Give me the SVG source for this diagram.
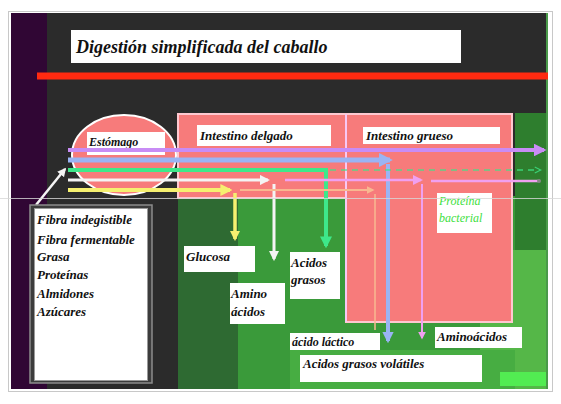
<svg xmlns="http://www.w3.org/2000/svg" width="561" height="404" viewBox="0 0 561 404">
<defs>
<style>
.lbl{font-family:"Liberation Serif","DejaVu Serif",serif;font-style:italic;font-weight:bold;fill:#111;}
.box{fill:#fff;}
.pink{fill:#f77b7b;stroke:#ffc8d0;stroke-width:2;}
.ln{fill:none;}
</style>
<marker id="mPurple" viewBox="0 0 10 10" refX="8" refY="5" markerWidth="3.2" markerHeight="3.2" orient="auto" markerUnits="strokeWidth"><path d="M0,0 L10,5 L0,10 z" fill="#c88cf5"/></marker>
<marker id="mBlue" viewBox="0 0 10 10" refX="8" refY="5" markerWidth="2.8" markerHeight="2.8" orient="auto" markerUnits="strokeWidth"><path d="M0,0 L10,5 L0,10 z" fill="#9ab4f4"/></marker>
<marker id="mGreen" viewBox="0 0 10 10" refX="8" refY="5" markerWidth="3" markerHeight="3" orient="auto" markerUnits="strokeWidth"><path d="M0,0 L10,5 L0,10 z" fill="#3ee88a"/></marker>
<marker id="mGreenD" viewBox="0 0 10 10" refX="8" refY="5" markerWidth="5" markerHeight="5" orient="auto" markerUnits="strokeWidth"><path d="M1,1 L9,5 L1,9" fill="none" stroke="#3ee88a" stroke-width="1.5"/></marker>
<marker id="mWhite" viewBox="0 0 10 10" refX="8" refY="5" markerWidth="3.5" markerHeight="3.5" orient="auto" markerUnits="strokeWidth"><path d="M0,0 L10,5 L0,10 z" fill="#f4f4f4"/></marker>
<marker id="mYellow" viewBox="0 0 10 10" refX="8" refY="5" markerWidth="3" markerHeight="3" orient="auto" markerUnits="strokeWidth"><path d="M0,0 L10,5 L0,10 z" fill="#f6f070"/></marker>
<marker id="mPinkV" viewBox="0 0 10 10" refX="8" refY="5" markerWidth="4" markerHeight="4" orient="auto" markerUnits="strokeWidth"><path d="M0,0 L10,5 L0,10 z" fill="#f0a0f0"/></marker>
<marker id="mOrange" viewBox="0 0 10 10" refX="8" refY="5" markerWidth="4" markerHeight="4" orient="auto" markerUnits="strokeWidth"><path d="M0,0 L10,5 L0,10 z" fill="#f8b890"/></marker>
</defs>

<!-- frame and backgrounds -->
<rect x="0" y="0" width="561" height="404" fill="#fff"/>
<rect x="8.5" y="11.5" width="544" height="380" fill="none" stroke="#c8c8c8" stroke-width="1"/>
<rect x="11" y="13" width="537" height="376" fill="#2b2b2b"/>
<rect x="11" y="13" width="36" height="376" fill="#300634"/>
<rect x="178" y="196" width="337" height="193" fill="#3a9a3a"/>
<rect x="178" y="196" width="60" height="193" fill="#2e6a32"/>
<rect x="515" y="113" width="33" height="276" fill="#2e7e2e"/>
<rect x="480" y="250" width="68" height="139" fill="#55b748"/>
<rect x="290" y="350" width="225" height="39" fill="#47ad42"/>
<rect x="500" y="372" width="48" height="14" fill="#52ec52"/>
<rect x="546" y="13" width="2" height="376" fill="#4a9a4a"/>

<!-- title -->
<g id="title">
<rect x="71" y="30" width="390" height="33" class="box"/>
<text x="76" y="53" class="lbl" font-size="18">Digestión simplificada del caballo</text>
</g>
<line x1="37" y1="76" x2="548" y2="76" stroke="#ff2a10" stroke-width="7"/>

<!-- organs -->
<g id="intestino-delgado">
<rect x="178" y="114" width="168" height="84" class="pink"/>
<rect x="197" y="125" width="134" height="21" class="box"/>
<text x="200" y="140" class="lbl" font-size="13">Intestino delgado</text>
</g>
<g id="intestino-grueso">
<rect x="346" y="114" width="166" height="208" class="pink"/>
<line x1="346" y1="114" x2="346" y2="322" stroke="#f8c8f4" stroke-width="2"/>
<rect x="363" y="127" width="137" height="17" class="box"/>
<text x="366" y="140" class="lbl" font-size="13">Intestino grueso</text>
</g>
<g id="estomago">
<ellipse cx="124" cy="155" rx="52" ry="40" fill="#f77b7b" stroke="#ffffff" stroke-width="2"/>
<rect x="87" y="132" width="78" height="23" class="box"/>
<text x="89" y="146" class="lbl" font-size="12">Estómago</text>
</g>

<!-- connectors -->
<g id="connectors">
<line x1="68" y1="150" x2="544" y2="150" stroke="#c88cf5" stroke-width="4" marker-end="url(#mPurple)"/>
<line x1="68" y1="160" x2="390" y2="160" stroke="#9ab4f4" stroke-width="5" marker-end="url(#mBlue)"/>
<line x1="388" y1="164" x2="388" y2="341" stroke="#9ab4f4" stroke-width="4" marker-end="url(#mBlue)"/>
<path d="M68,170 H326 V246" class="ln" stroke="#3ee88a" stroke-width="4" marker-end="url(#mGreen)"/>
<line x1="330" y1="170" x2="540" y2="170" stroke="#3ee88a" stroke-width="1.5" stroke-dasharray="6,5" opacity="0.8" marker-end="url(#mGreenD)"/>
<line x1="68" y1="180" x2="268" y2="180" stroke="#f4f4f4" stroke-width="3" marker-end="url(#mWhite)"/>
<line x1="274" y1="184" x2="274" y2="259" stroke="#f4f4f4" stroke-width="3" marker-end="url(#mWhite)"/>
<line x1="285" y1="180" x2="421" y2="180" stroke="#f0a0f0" stroke-width="2.5" marker-end="url(#mPinkV)"/>
<line x1="422" y1="184" x2="422" y2="338" stroke="#f0a0f0" stroke-width="2" marker-end="url(#mPinkV)"/>
<line x1="431" y1="181" x2="538" y2="181" stroke="#f0a0f0" stroke-width="2.5"/>
<circle cx="539" cy="181" r="2" fill="#888"/>
<line x1="68" y1="190" x2="230" y2="190" stroke="#f6f070" stroke-width="4" marker-end="url(#mYellow)"/>
<line x1="235" y1="193" x2="235" y2="239" stroke="#f6f070" stroke-width="3.5" marker-end="url(#mYellow)"/>
<line x1="240" y1="190" x2="373" y2="190" stroke="#f8b890" stroke-width="2" marker-end="url(#mOrange)"/>
<line x1="375" y1="194" x2="375" y2="330" stroke="#f8b890" stroke-width="1.5"/>
<line x1="36" y1="205" x2="65" y2="169" stroke="#f4f4f4" stroke-width="2.5" marker-end="url(#mWhite)"/>
</g>

<!-- ingredients -->
<g id="alimentos">
<rect x="30" y="205" width="122" height="178" fill="#3c3c3c" stroke="#8c8c8c" stroke-width="1.5"/>
<rect x="34.5" y="208.5" width="113" height="172" fill="#fff" stroke="#9a9a9a" stroke-width="1"/>
<text class="lbl" font-size="13">
<tspan x="37" y="224">Fibra indegistible</tspan>
<tspan x="37" y="244">Fibra fermentable</tspan>
<tspan x="37" y="261">Grasa</tspan>
<tspan x="37" y="279">Proteínas</tspan>
<tspan x="37" y="298">Almidones</tspan>
<tspan x="37" y="316">Azúcares</tspan>
</text>
</g>

<!-- products -->
<g id="glucosa">
<rect x="184" y="246" width="71" height="26" class="box"/>
<text x="186" y="261" class="lbl" font-size="13">Glucosa</text>
</g>
<g id="amino-acidos">
<rect x="230" y="283" width="55" height="41" class="box"/>
<text class="lbl" font-size="13"><tspan x="231" y="298">Amino</tspan><tspan x="231" y="316">ácidos</tspan></text>
</g>
<g id="acidos-grasos">
<rect x="290" y="252" width="50" height="47" class="box"/>
<text class="lbl" font-size="13"><tspan x="291" y="267">Acidos</tspan><tspan x="291" y="284">grasos</tspan></text>
</g>
<g id="proteina-bacterial">
<rect x="437" y="193" width="55" height="40" class="box"/>
<text font-family="Liberation Serif, serif" font-style="italic" font-size="12" fill="#3ee040"><tspan x="439" y="205">Proteína</tspan><tspan x="439" y="222">bacterial</tspan></text>
</g>
<g id="acido-lactico">
<rect x="290" y="333" width="90" height="17" class="box"/>
<text x="292" y="346" class="lbl" font-size="12">ácido láctico</text>
</g>
<g id="agv">
<rect x="300" y="355" width="182" height="27" class="box"/>
<text x="303" y="368" class="lbl" font-size="13">Acidos grasos volátiles</text>
</g>
<g id="aminoacidos">
<rect x="435" y="327" width="87" height="21" class="box"/>
<text x="437" y="341" class="lbl" font-size="13">Aminoácidos</text>
</g>

<line x1="0" y1="198.5" x2="561" y2="198.5" stroke="#d8d8d8" stroke-width="1" opacity="0.8"/>
</svg>
